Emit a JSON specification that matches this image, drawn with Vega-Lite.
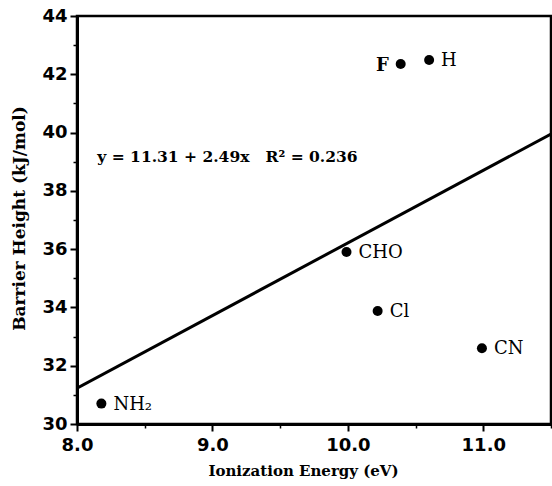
{
  "$schema": "https://vega.github.io/schema/vega-lite/v6.json",
  "width": 474,
  "height": 408,
  "autosize": {"type": "none"},
  "padding": {"left": 77, "top": 16, "right": 1, "bottom": 62},
  "background": "white",
  "config": {
    "view": {"stroke": "black", "strokeWidth": 2.5},
    "axis": {"grid": false, "domainColor": "black", "tickColor": "black", "labelColor": "black", "titleColor": "black"}
  },
  "datasets": {
    "pts": [
      {"ligand": "NH₂", "ie": 8.18, "bh": 30.7},
      {"ligand": "CHO", "ie": 9.99, "bh": 35.9},
      {"ligand": "Cl", "ie": 10.22, "bh": 33.88},
      {"ligand": "CN", "ie": 10.99, "bh": 32.6},
      {"ligand": "F", "ie": 10.39, "bh": 42.35},
      {"ligand": "H", "ie": 10.6, "bh": 42.49}
    ],
    "fit": [
      {"ie": 8.0, "bh": 31.23},
      {"ie": 11.5, "bh": 39.95}
    ],
    "eq": [
      {"ie": 8.15, "bh": 39.16, "t": "y = 11.31 + 2.49x\u00a0\u00a0 R² = 0.236"}
    ]
  },
  "layer": [
    {
      "data": {"name": "fit"},
      "mark": {"type": "line", "color": "black", "strokeWidth": 3, "clip": true},
      "encoding": {
        "x": {"field": "ie", "type": "quantitative", "scale": {"domain": [8, 11.5], "nice": false, "zero": false},
          "axis": {"orient": "bottom", "values": [8, 9, 10, 11], "format": ".1f", "labelFont": "DejaVu Sans", "labelFontWeight": "bold", "labelFontSize": 18, "tickSize": 7, "tickWidth": 2, "domainWidth": 3, "labelPadding": 5, "labelFlush": false,
            "title": "Ionization Energy (eV)", "titleFont": "DejaVu Serif", "titleFontWeight": 900, "titleFontSize": 15, "titleX": 226, "titleY": 46, "titleBaseline": "middle"}},
        "y": {"field": "bh", "type": "quantitative", "scale": {"domain": [30, 44], "nice": false, "zero": false},
          "axis": {"orient": "left", "values": [30, 32, 34, 36, 38, 40, 42, 44], "labelFont": "DejaVu Sans", "labelFontWeight": "bold", "labelFontSize": 18, "tickSize": 7, "tickWidth": 2, "domainWidth": 3, "labelPadding": 3, "labelFlush": false,
            "title": "Barrier Height (kJ/mol)", "titleFont": "DejaVu Serif", "titleFontWeight": 900, "titleFontSize": 17, "titleX": -58, "titleY": 202, "titleAngle": -90, "titleAlign": "center", "titleBaseline": "middle"}}
      }
    },
    {
      "data": {"name": "pts"},
      "mark": {"type": "point", "filled": true, "color": "black", "opacity": 1, "size": 100},
      "encoding": {
        "x": {"field": "ie", "type": "quantitative",
          "axis": {"orient": "bottom", "values": [8.5, 9.5, 10.5, 11.5], "labels": false, "domain": false, "title": null, "tickSize": 4, "tickWidth": 1.5}},
        "y": {"field": "bh", "type": "quantitative",
          "axis": {"orient": "left", "values": [31, 33, 35, 37, 39, 41, 43], "labels": false, "domain": false, "title": null, "tickSize": 4, "tickWidth": 1.5}}
      }
    },
    {
      "data": {"name": "pts"},
      "transform": [{"filter": "datum.ligand !== 'F'"}],
      "mark": {"type": "text", "align": "left", "baseline": "middle", "dx": 12, "dy": 1, "font": "DejaVu Serif", "fontSize": 18, "color": "black"},
      "encoding": {
        "x": {"field": "ie", "type": "quantitative", "axis": null},
        "y": {"field": "bh", "type": "quantitative", "axis": null},
        "text": {"field": "ligand"}
      }
    },
    {
      "data": {"name": "pts"},
      "transform": [{"filter": "datum.ligand === 'F'"}],
      "mark": {"type": "text", "align": "right", "baseline": "middle", "dx": -12, "dy": 2, "font": "DejaVu Serif", "fontSize": 18, "fontWeight": "bold", "color": "black"},
      "encoding": {
        "x": {"field": "ie", "type": "quantitative", "axis": null},
        "y": {"field": "bh", "type": "quantitative", "axis": null},
        "text": {"field": "ligand"}
      }
    },
    {
      "data": {"name": "eq"},
      "mark": {"type": "text", "align": "left", "baseline": "middle", "font": "DejaVu Serif", "fontSize": 15.5, "fontWeight": "bold", "color": "black"},
      "encoding": {
        "x": {"field": "ie", "type": "quantitative", "axis": null},
        "y": {"field": "bh", "type": "quantitative", "axis": null},
        "text": {"field": "t"}
      }
    }
  ],
  "resolve": {"axis": {"x": "independent", "y": "independent"}}
}
